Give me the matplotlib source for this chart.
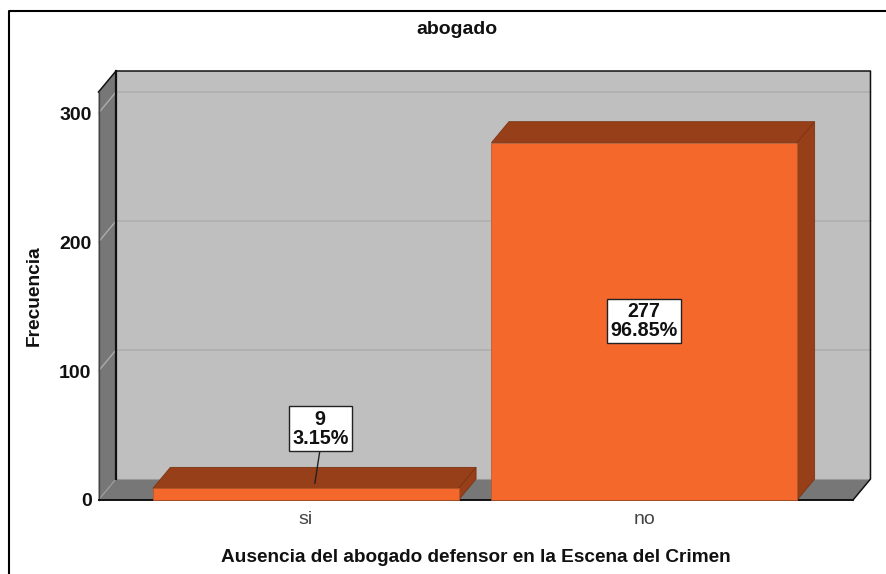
import matplotlib
matplotlib.use("Agg")
import matplotlib.pyplot as plt
from matplotlib.patches import Polygon, Rectangle

plt.rcParams['font.family'] = ['Liberation Sans', 'DejaVu Sans']

categories = ['si', 'no']
counts = [9, 277]
percents = ['3.15%', '96.85%']
yticks = [0, 100, 200, 300]

W, H = 886, 574
# plot floor front edge in pixels
left, right, bottom, top = 98.5, 853, 500, 92
ymax = 316.3
xmin, xmax = -0.6121, 1.6165
bar_w = 0.903
# 3d depth in data units
dx = 17.5 / 339
dy = 21 / 1.29

wall_c = '#777777'
back_c = '#bfbfbf'
front_c = '#f4682b'
dark_c = '#973f18'
grid_c = '#acacac'

fig = plt.figure(figsize=(W / 100, H / 100), dpi=100)
ax = fig.add_axes([left / W, 1 - bottom / H, (right - left) / W, (bottom - top) / H])
ax.set_xlim(xmin, xmax)
ax.set_ylim(0, ymax)
ax.patch.set_visible(False)
for s in ax.spines.values():
    s.set_visible(False)


def poly(pts, fc, ec='none', lw=0.8, z=1):
    ax.add_patch(Polygon(pts, closed=True, fc=fc, ec=ec, lw=lw, zorder=z, clip_on=False))


# back wall, left wall, floor
poly([(xmin + dx, dy), (xmax + dx, dy), (xmax + dx, ymax + dy), (xmin + dx, ymax + dy)], back_c, z=1)
poly([(xmin, 0), (xmin + dx, dy), (xmin + dx, ymax + dy), (xmin, ymax)], wall_c, z=1)
poly([(xmin, 0), (xmax, 0), (xmax + dx, dy), (xmin + dx, dy)], wall_c, z=1)

# gridlines
for v in yticks[1:]:
    ax.plot([xmin, xmin + dx, xmax + dx], [v, v + dy, v + dy], color=grid_c, lw=1, zorder=2, clip_on=False)
ax.plot([xmin, xmin + dx], [0, dy], color='#a0a0a0', lw=0.8, zorder=2, clip_on=False)

# frame lines of the box
ax.plot([xmin + dx, xmin + dx], [dy, ymax + dy], color='#111111', lw=1.6, zorder=3, clip_on=False)
ax.plot([xmin, xmin + dx, xmax + dx, xmax + dx, xmax], [ymax, ymax + dy, ymax + dy, dy, 0],
        color='#111111', lw=1.1, zorder=3, clip_on=False)
ax.plot([xmin, xmin], [0, ymax], color='#444444', lw=1, zorder=3, clip_on=False)
ax.plot([xmin, xmax], [0, 0], color='#111111', lw=1.4, zorder=3, clip_on=False)
ax.plot([xmin + dx, xmax + dx], [dy, dy], color='#999999', lw=0.8, zorder=2, clip_on=False)

# bars
for i, c in enumerate(counts):
    x0, x1 = i - bar_w / 2, i + bar_w / 2
    poly([(x0, c), (x1, c), (x1 + dx, c + dy), (x0 + dx, c + dy)], dark_c, ec='#7d3413', lw=0.6, z=4)
    poly([(x1, 0), (x1 + dx, dy), (x1 + dx, c + dy), (x1, c)], dark_c, ec='#7d3413', lw=0.6, z=4)
    ax.add_patch(Rectangle((x0, 0), bar_w, c, fc=front_c, ec='#b0562c', lw=0.5, zorder=5, clip_on=False))

# value boxes
box = dict(boxstyle='square,pad=0.17', fc='white', ec='#222222', lw=1)
ax.plot([0.041, 0.027], [37, 13], color='#222222', lw=1, zorder=6, clip_on=False)
ax.text(0.043, 55.4, f'{counts[0]}\n{percents[0]}', ha='center', va='center', fontsize=14.2, fontweight='bold',
        linespacing=1.0, bbox=box, zorder=7, color='#111111')
ax.text(1, 138.8, f'{counts[1]}\n{percents[1]}', ha='center', va='center', fontsize=14.2, fontweight='bold',
        linespacing=1.0, bbox=box, zorder=7, color='#111111')

# axes ticks and labels
ax.set_yticks(yticks)
ax.set_yticklabels(yticks, fontsize=14, fontweight='bold', color='#111111')
ax.set_xticks([0, 1])
ax.set_xticklabels(categories, fontsize=14, color='#444444')
ax.tick_params(axis='both', length=0)
ax.tick_params(axis='x', pad=8)
ax.tick_params(axis='y', pad=5)

fig.text(34 / W, 1 - 296 / H, 'Frecuencia', rotation=90, ha='center', va='center', fontsize=13.8, fontweight='bold', color='#111111')
fig.text(476 / W, 1 - 557 / H, 'Ausencia del abogado defensor en la Escena del Crimen', ha='center', va='center',
         fontsize=13.7, fontweight='bold', color='#111111')
fig.text(457 / W, 1 - 29 / H, 'abogado', ha='center', va='center', fontsize=14, fontweight='bold', color='#111111')

# outer border, open at bottom and right
fig.add_artist(plt.Line2D([8.5 / W, 8.5 / W, 1], [0, 1 - 11 / H, 1 - 11 / H], color='black', lw=1.5))

fig.savefig('out.png', dpi=100)
